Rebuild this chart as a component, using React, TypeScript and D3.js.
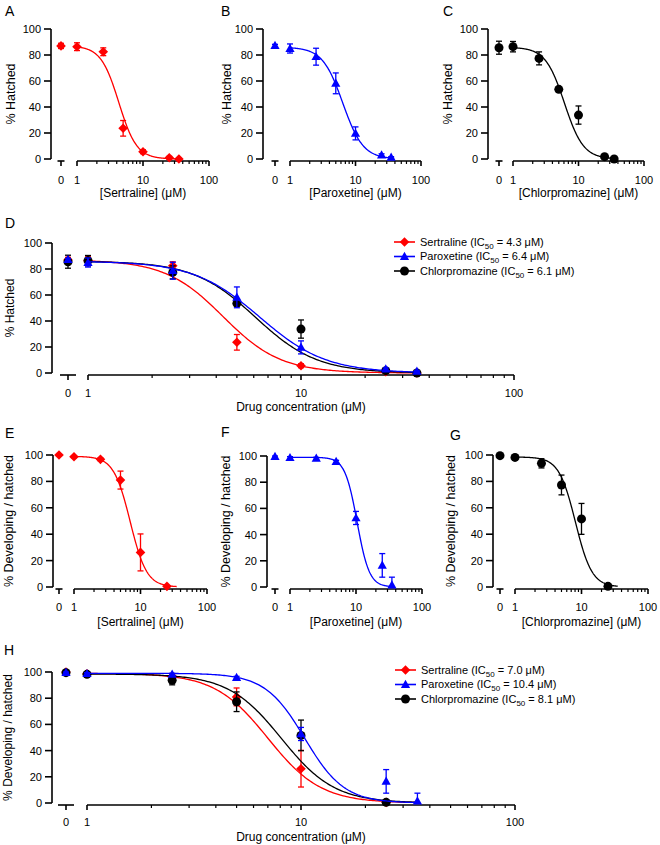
import React from 'react';
import * as d3 from 'd3';

const FONT = 'Arial, "Liberation Sans", sans-serif';

// concentrations in µM (0 = vehicle control, drawn on its own axis stub)
const dosesHatched = [0, 1, 2.5, 5, 10, 25, 35];
const dosesSertralineDev = [0, 1, 2.5, 5, 10, 25];
const dosesParoxetineDev = [0, 1, 2.5, 5, 10, 25, 35];
const dosesChlorpromazineDev = [0, 1, 2.5, 5, 10, 25];

const drugNames = ['Sertraline', 'Paroxetine', 'Chlorpromazine'];
const drugColors = ['#ff0000', '#0000ff', '#000000'];
const drugMarkers = ['diamond', 'triangle', 'circle'];

// % hatched (mean, sem)
const sertralineHatched = [87, 86.4, 82.5, 23.6, 5.6, 1, 0];
const sertralineHatchedErr = [2, 3, 3, 6, 1.5, 1, 0.5];
const paroxetineHatched = [87.2, 85, 78.7, 58.2, 19.7, 3, 1.3];
const paroxetineHatchedErr = [1, 3.5, 6.5, 8, 5, 1, 0.5];
const chlorpromazineHatched = [85.6, 86.4, 77.4, 53.6, 33.8, 1.8, 0];
const chlorpromazineHatchedErr = [5, 4, 5, 1.5, 7, 1, 0.5];

// % developing / hatched (mean, sem)
const sertralineDev = [100, 98.7, 96.7, 81, 26.2, 0.5];
const sertralineDevErr = [0.5, 0.8, 1, 6.8, 14, 0.5];
const paroxetineDev = [99.5, 98.7, 98.2, 95.7, 52.7, 16.5, 1.5];
const paroxetineDevErr = [0.5, 0.8, 0.8, 1, 5, 9, 6];
const chlorpromazineDev = [99.5, 98.2, 93.7, 77.3, 51.6, 0.5];
const chlorpromazineDevErr = [0.5, 0.8, 3.5, 7.5, 11.7, 0.5];

// fitted dose-response curves (top, IC50, hill)
const hatchedTop = [87, 86, 86];
const hatchedIC50 = [4.3, 6.4, 6.1];
const hatchedHill = [3.2, 2.8, 3.0];
const devTop = [99, 99, 98.5];
const devIC50 = [7.0, 10.4, 8.1];
const devHill = [3.5, 4.7, 3.5];

const yTicks = [0, 20, 40, 60, 80, 100];
const xMajor = [1, 10, 100];
const xMinor = [2, 3, 4, 5, 6, 7, 8, 9, 20, 30, 40, 50, 60, 70, 80, 90];

const mk = (i, doses, values, errs, top, ic50, hill) => ({
  name: drugNames[i], color: drugColors[i], marker: drugMarkers[i],
  doses, values, errs, top: top[i], ic50: ic50[i], hill: hill[i],
});

const hatched = [
  mk(0, dosesHatched, sertralineHatched, sertralineHatchedErr, hatchedTop, hatchedIC50, hatchedHill),
  mk(1, dosesHatched, paroxetineHatched, paroxetineHatchedErr, hatchedTop, hatchedIC50, hatchedHill),
  mk(2, dosesHatched, chlorpromazineHatched, chlorpromazineHatchedErr, hatchedTop, hatchedIC50, hatchedHill),
];
const developing = [
  mk(0, dosesSertralineDev, sertralineDev, sertralineDevErr, devTop, devIC50, devHill),
  mk(1, dosesParoxetineDev, paroxetineDev, paroxetineDevErr, devTop, devIC50, devHill),
  mk(2, dosesChlorpromazineDev, chlorpromazineDev, chlorpromazineDevErr, devTop, devIC50, devHill),
];

function markerPath(type, s = 1) {
  if (type === 'diamond') {
    const r = 4.8 * s;
    return `M0,${-r}L${r},0L0,${r}L${-r},0Z`;
  }
  if (type === 'triangle') {
    const w = 4.6 * s;
    return `M0,${-4.8 * s}L${w},${3.4 * s}L${-w},${3.4 * s}Z`;
  }
  return d3.symbol().type(d3.symbolCircle).size(Math.PI * 4.5 * 4.5 * s * s)();
}

function Marker({ type, color, cx, cy }) {
  return <path d={markerPath(type)} transform={`translate(${cx},${cy})`} fill={color} />;
}

function Panel({ L, series, legend = null }) {
  const x = d3.scaleLog().domain([1, 100]).range([L.x1, L.x100]);
  const y = d3.scaleLinear().domain([0, 100]).range([L.yBottom, L.yTop]);
  const px = (d) => (d === 0 ? L.zeroX : x(d));
  const axisY = L.yBottom + 2;
  const curveX = d3.range(0, 201).map((i) => Math.pow(35, i / 200));
  const sw = 1.6;
  const yMid = (L.yTop + L.yBottom) / 2;
  const xMid = (L.x1 + L.x100) / 2;

  return (
    <g fontFamily={FONT}>
      <text x={L.letterX} y={L.letterY} fontSize={14}>{L.letter}</text>
      {/* y axis */}
      <line x1={L.yAxisX} x2={L.yAxisX} y1={L.yTop} y2={L.yBottom} stroke="#000" strokeWidth={sw} />
      {yTicks.map((t) => (
        <g key={t}>
          <line x1={L.yAxisX - 7} x2={L.yAxisX} y1={y(t)} y2={y(t)} stroke="#000" strokeWidth={sw} />
          <text x={L.yAxisX - 10} y={y(t)} dy="0.36em" textAnchor="end" fontSize={11}>{t}</text>
        </g>
      ))}
      <text transform={`translate(${L.yTitleX},${yMid}) rotate(-90)`} textAnchor="middle" dy="0.36em" fontSize={L.yTitleSize}>
        {L.yTitle}
      </text>
      {/* x axis: control stub + log axis */}
      <line x1={L.zeroX - L.zeroHalf} x2={L.zeroX + L.zeroHalf} y1={axisY} y2={axisY} stroke="#000" strokeWidth={sw} />
      <line x1={L.zeroX} x2={L.zeroX} y1={axisY} y2={axisY + 5} stroke="#000" strokeWidth={sw} />
      <line x1={L.x1} x2={L.x100} y1={axisY} y2={axisY} stroke="#000" strokeWidth={sw} />
      {xMajor.map((t) => (
        <line key={t} x1={x(t)} x2={x(t)} y1={axisY} y2={axisY + 5} stroke="#000" strokeWidth={sw} />
      ))}
      {xMinor.map((t) => (
        <line key={t} x1={x(t)} x2={x(t)} y1={axisY} y2={axisY + 3} stroke="#000" strokeWidth={1.2} />
      ))}
      {[0, ...xMajor].map((t) => (
        <text key={t} x={px(t)} y={L.tickLabelY} textAnchor="middle" fontSize={11}>{t}</text>
      ))}
      <text x={xMid} y={L.xTitleY} textAnchor="middle" fontSize={12}>{L.xTitle}</text>
      {/* data */}
      {series.map((s) => {
        const f = (c) => s.top / (1 + Math.pow(c / s.ic50, s.hill));
        const line = d3.line().x((c) => x(c)).y((c) => y(f(c)))(curveX);
        return (
          <g key={s.name}>
            <path d={line} fill="none" stroke={s.color} strokeWidth={1.3} />
            {s.doses.map((d, i) => {
              const cx = px(d);
              const lo = y(Math.max(0, s.values[i] - s.errs[i]));
              const hi = y(s.values[i] + s.errs[i]);
              return (
                <g key={d}>
                  <line x1={cx} x2={cx} y1={lo} y2={hi} stroke={s.color} strokeWidth={1.3} />
                  <line x1={cx - 3} x2={cx + 3} y1={lo} y2={lo} stroke={s.color} strokeWidth={1.3} />
                  <line x1={cx - 3} x2={cx + 3} y1={hi} y2={hi} stroke={s.color} strokeWidth={1.3} />
                  <Marker type={s.marker} color={s.color} cx={cx} cy={y(s.values[i])} />
                </g>
              );
            })}
          </g>
        );
      })}
      {legend &&
        legend.order.map((s, i) => {
          const ly = legend.y + i * legend.step;
          return (
            <g key={'lg' + s.name}>
              <line x1={legend.x} x2={legend.x + 21} y1={ly} y2={ly} stroke={s.color} strokeWidth={1.6} />
              <Marker type={s.marker} color={s.color} cx={legend.x + 10.5} cy={ly} />
              <text x={legend.x + 26} y={ly} dy="0.36em" fontSize={11}>
                {`${s.name} (IC`}
                <tspan dy={3} fontSize={8}>50</tspan>
                <tspan dy={-3}>{` = ${s.ic50.toFixed(1)} μM)`}</tspan>
              </text>
            </g>
          );
        })}
    </g>
  );
}

const small = { zeroHalf: 3.5, yTitleSize: 12.5 };
const layouts = {
  A: { ...small, letter: 'A', letterX: 5, letterY: 16, yAxisX: 51, zeroX: 61, x1: 77, x100: 209, yTop: 29, yBottom: 159, tickLabelY: 184, xTitleY: 197, yTitleX: 10, xTitle: '[Sertraline] (μM)', yTitle: '% Hatched' },
  B: { ...small, letter: 'B', letterX: 221, letterY: 16, yAxisX: 263, zeroX: 275, x1: 290, x100: 421, yTop: 29, yBottom: 159, tickLabelY: 184, xTitleY: 197, yTitleX: 226, xTitle: '[Paroxetine] (μM)', yTitle: '% Hatched' },
  C: { ...small, letter: 'C', letterX: 443, letterY: 16, yAxisX: 488, zeroX: 499, x1: 513, x100: 644, yTop: 29, yBottom: 159, tickLabelY: 184, xTitleY: 197, yTitleX: 447, xTitle: '[Chlorpromazine] (μM)', yTitle: '% Hatched' },
  D: { zeroHalf: 8, yTitleSize: 12, letter: 'D', letterX: 5, letterY: 228, yAxisX: 52, zeroX: 68, x1: 88, x100: 514, yTop: 243, yBottom: 373, tickLabelY: 397, xTitleY: 411, yTitleX: 10, xTitle: 'Drug concentration (μM)', yTitle: '% Hatched' },
  E: { ...small, letter: 'E', letterX: 5, letterY: 438, yAxisX: 53, zeroX: 59, x1: 74, x100: 207, yTop: 455, yBottom: 587, tickLabelY: 611, xTitleY: 626, yTitleX: 8, xTitle: '[Sertraline] (μM)', yTitle: '% Developing / hatched' },
  F: { ...small, letter: 'F', letterX: 221, letterY: 437, yAxisX: 267, zeroX: 275, x1: 290, x100: 422, yTop: 456, yBottom: 587, tickLabelY: 611, xTitleY: 626, yTitleX: 225, xTitle: '[Paroxetine] (μM)', yTitle: '% Developing / hatched' },
  G: { ...small, letter: 'G', letterX: 450, letterY: 440, yAxisX: 493, zeroX: 500, x1: 515, x100: 648, yTop: 455, yBottom: 587, tickLabelY: 611, xTitleY: 626, yTitleX: 450, xTitle: '[Chlorpromazine] (μM)', yTitle: '% Developing / hatched' },
  H: { zeroHalf: 8, yTitleSize: 12, letter: 'H', letterX: 4, letterY: 655, yAxisX: 52, zeroX: 66, x1: 87, x100: 515, yTop: 672, yBottom: 803, tickLabelY: 826, xTitleY: 841, yTitleX: 8, xTitle: 'Drug concentration (μM)', yTitle: '% Developing / hatched' },
};

export default function App() {
  return (
    <svg width={660} height={845} style={{ position: 'absolute', left: 0, top: 0, background: '#fff' }}>
      <Panel L={layouts.A} series={[hatched[0]]} />
      <Panel L={layouts.B} series={[hatched[1]]} />
      <Panel L={layouts.C} series={[hatched[2]]} />
      <Panel
        L={layouts.D}
        series={[hatched[0], hatched[2], hatched[1]]}
        legend={{ x: 394, y: 242, step: 14.5, order: hatched }}
      />
      <Panel L={layouts.E} series={[developing[0]]} />
      <Panel L={layouts.F} series={[developing[1]]} />
      <Panel L={layouts.G} series={[developing[2]]} />
      <Panel
        L={layouts.H}
        series={[developing[0], developing[2], developing[1]]}
        legend={{ x: 395, y: 670, step: 14.5, order: developing }}
      />
    </svg>
  );
}
